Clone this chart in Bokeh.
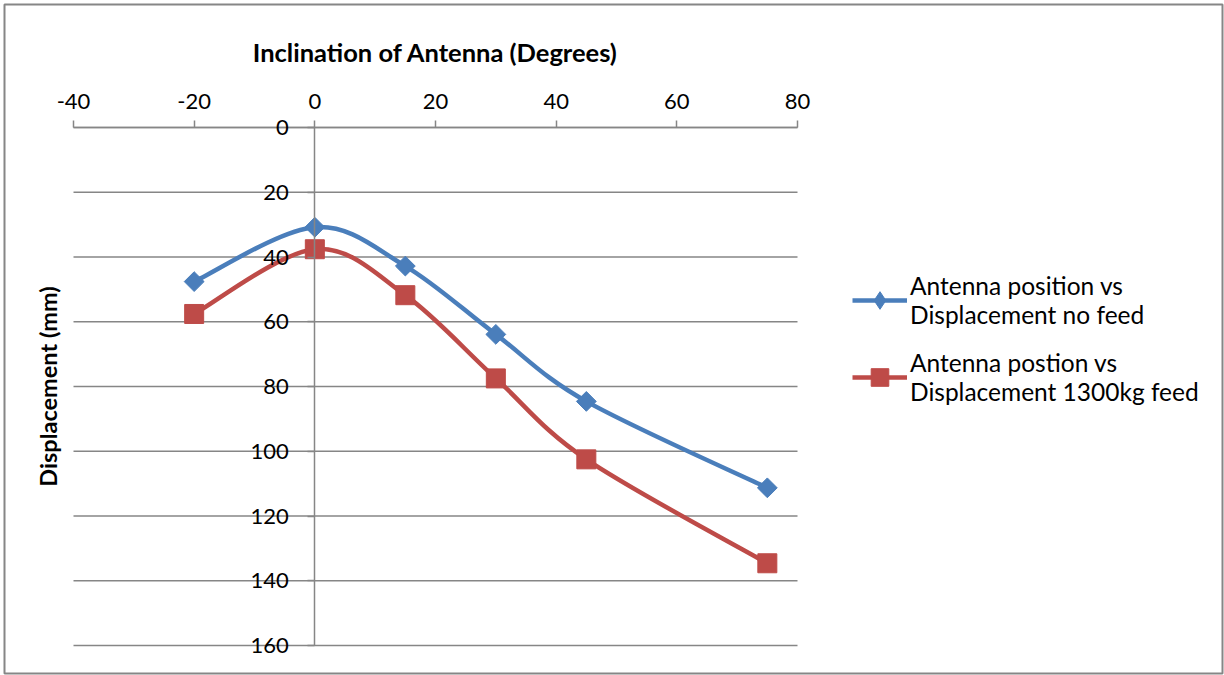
from bokeh.plotting import figure
from bokeh.models import Range1d, LinearAxis, FixedTicker, Legend, LegendItem, ColumnDataSource
from bokeh.embed import file_html
from bokeh.resources import INLINE

# ---- data ----
angle = [-20, 0, 15, 30, 45, 75]
no_feed = [47.6, 30.8, 42.8, 63.9, 84.6, 111.3]
feed_1300 = [57.6, 37.6, 51.8, 77.5, 102.5, 134.6]
x_ticks = [-40, -20, 0, 20, 40, 60, 80]
y_ticks = [0, 20, 40, 60, 80, 100, 120, 140, 160]
series_names = ["Antenna position vs\nDisplacement no feed",
                "Antenna postion vs\nDisplacement 1300kg feed"]

FONT = "Lato"
GRID = "#868686"
BLUE = "#4A7EBB"
RED = "#BE4B48"

# layout: the frame covers the whole chart area (its outline is the chart border) so that
# the crossing axes' labels are not clipped; ranges keep -40..80 at px 73..797, 0..160 at px 127..645
FL, FR, FT, FB = 4, 1222, 4, 673
XS = (797 - 73) / (x_ticks[-1] - x_ticks[0])
YS = (645 - 127) / (y_ticks[-1] - y_ticks[0])
x_start = x_ticks[0] - (73 - FL) / XS
x_end = x_ticks[-1] + (FR - 797) / XS
y_top = y_ticks[0] - (127 - FT) / YS
y_bot = y_ticks[-1] + (FB - 645) / YS


def bezier_source(xs, ys, k=1.0 / 6.0):
    n = len(xs)
    d = dict(x0=[], y0=[], x1=[], y1=[], cx0=[], cy0=[], cx1=[], cy1=[])
    for i in range(n - 1):
        xp, yp = (xs[i - 1], ys[i - 1]) if i > 0 else (xs[i], ys[i])
        xn, yn = (xs[i + 2], ys[i + 2]) if i + 2 < n else (xs[i + 1], ys[i + 1])
        d["x0"].append(xs[i]); d["y0"].append(ys[i])
        d["x1"].append(xs[i + 1]); d["y1"].append(ys[i + 1])
        d["cx0"].append(xs[i] + (xs[i + 1] - xp) * k)
        d["cy0"].append(ys[i] + (ys[i + 1] - yp) * k)
        d["cx1"].append(xs[i + 1] - (xn - xs[i]) * k)
        d["cy1"].append(ys[i + 1] - (yn - ys[i]) * k)
    return ColumnDataSource(d)


p = figure(width=1224, height=675, output_backend="svg", toolbar_location=None,
           x_range=Range1d(x_start, x_end), y_range=Range1d(y_bot, y_top),
           x_axis_location="above", y_axis_location="left",
           min_border_left=FL, min_border_right=1224 - FR, min_border_top=FT,
           min_border_bottom=675 - FB)
p.outline_line_color = GRID
p.outline_line_width = 2
p.background_fill_color = "white"
p.border_fill_color = "white"
p.xgrid.visible = False
p.ygrid.visible = False

# gridlines (horizontal, spanning the x axis extent)
p.segment(x0=[x_ticks[0]] * len(y_ticks), x1=[x_ticks[-1]] * len(y_ticks),
          y0=y_ticks, y1=y_ticks, line_color=GRID, line_width=1.5, level="underlay")

# x axis, crossing at y = 0, drawn on top
xa = p.xaxis[0]
xa.fixed_location = 0
xa.bounds = (x_ticks[0], x_ticks[-1])
xa.ticker = FixedTicker(ticks=x_ticks)
xa.major_label_overrides = {t: str(t) for t in x_ticks}
xa.axis_label = "Inclination of Antenna (Degrees)"
xa.axis_label_text_font = FONT
xa.axis_label_text_font_style = "bold"
xa.axis_label_text_font_size = "25.5px"
xa.axis_label_text_color = "black"
xa.axis_label_standoff = 24
xa.major_label_text_font = FONT
xa.major_label_text_font_size = "22px"
xa.major_label_text_color = "black"
xa.major_label_standoff = 12
xa.major_tick_out = 7
xa.major_tick_in = 0
xa.minor_tick_out = 0
xa.minor_tick_in = 0
xa.axis_line_color = GRID
xa.axis_line_width = 1.5
xa.major_tick_line_color = GRID
xa.major_tick_line_width = 1.5

# y axis crossing at x = 0
ya = p.yaxis[0]
ya.fixed_location = 0
ya.bounds = (y_ticks[0], y_ticks[-1])
ya.ticker = FixedTicker(ticks=y_ticks)
ya.major_label_text_font = FONT
ya.major_label_text_font_size = "22px"
ya.major_label_text_color = "black"
ya.major_label_standoff = 19
ya.major_tick_out = 7
ya.major_tick_in = 0
ya.minor_tick_out = 0
ya.minor_tick_in = 0
ya.axis_line_color = GRID
ya.axis_line_width = 1.5
ya.major_tick_line_color = GRID
ya.major_tick_line_width = 1.5

# y axis title, at the left edge of the plot area
yt = LinearAxis(fixed_location=x_ticks[0], ticker=FixedTicker(ticks=[]),
                bounds=(y_ticks[0], y_ticks[-1]),
                axis_label="Displacement (mm)", axis_label_text_font=FONT,
                axis_label_text_font_style="bold", axis_label_text_font_size="23.5px",
                axis_label_text_color="black", axis_label_standoff=12,
                axis_line_color=None, major_tick_line_color=None, minor_tick_line_color=None)
p.add_layout(yt, "left")

# series
b1 = p.bezier(source=bezier_source(angle, no_feed), x0="x0", y0="y0", x1="x1", y1="y1",
              cx0="cx0", cy0="cy0", cx1="cx1", cy1="cy1", line_color=BLUE, line_width=4.5)
s1 = p.scatter(angle, no_feed, marker="square", angle=0.7853981634, size=14,
               fill_color=BLUE, line_color=BLUE)
b2 = p.bezier(source=bezier_source(angle, feed_1300), x0="x0", y0="y0", x1="x1", y1="y1",
              cx0="cx0", cy0="cy0", cx1="cx1", cy1="cy1", line_color=RED, line_width=4.5)
s2 = p.scatter(angle, feed_1300, marker="square", size=19, fill_color=RED, line_color=RED)

# legend-only marker proxy for the diamond (legend glyphs ignore marker angle)
s1_leg = p.scatter(angle, no_feed, marker="diamond", size=14, fill_color=BLUE,
                   line_color=BLUE, visible=False)

legend = Legend(items=[LegendItem(label=series_names[0], renderers=[b1, s1_leg]),
                       LegendItem(label=series_names[1], renderers=[b2, s2])],
                location=(848, 267))
legend.label_text_font = FONT
legend.label_text_font_size = "24.5px"
legend.label_text_color = "black"
legend.glyph_width = 55
legend.glyph_height = 44
legend.label_standoff = 3
legend.spacing = 19
legend.padding = 0
legend.margin = 0
legend.border_line_color = None
legend.background_fill_alpha = 0
p.add_layout(legend)

open("out.html", "w").write(file_html(p, INLINE))
